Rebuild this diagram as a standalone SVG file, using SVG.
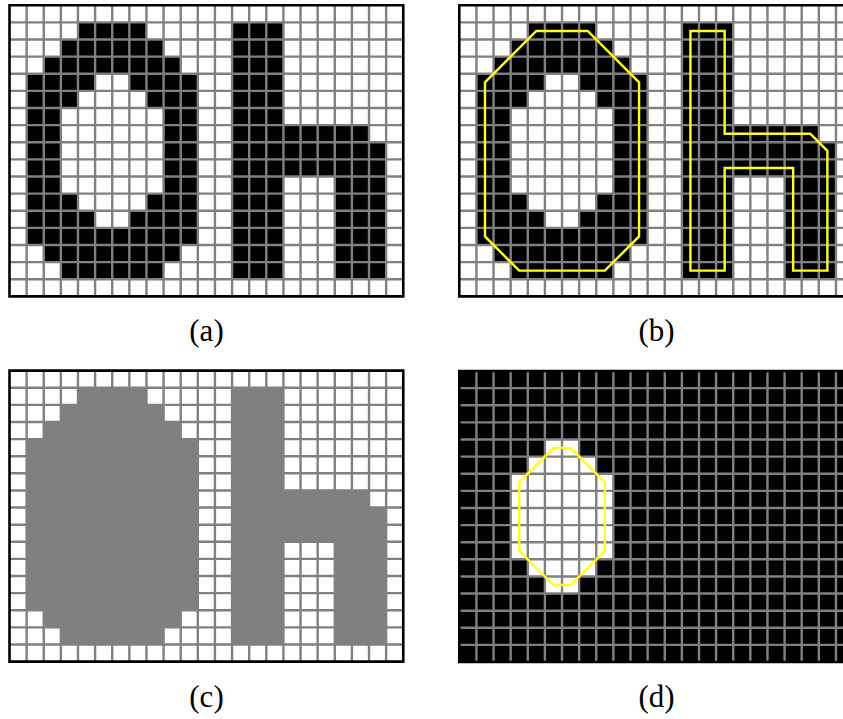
<svg xmlns="http://www.w3.org/2000/svg" width="843" height="719" viewBox="0 0 843 719">
<style>
.grid{fill:none;stroke:#808080;stroke-width:2.4}
.frame{fill:none;stroke:#000;stroke-width:2.6}
.outline{fill:none;stroke:#ffff22;stroke-width:2.4;stroke-linejoin:miter}
.black{fill:#000}
.white{fill:#fff}
.grey{fill:#808080}
.lbl{font-family:"Liberation Serif","Times New Roman",serif;font-size:31px;text-anchor:middle;fill:#000}
</style>
<defs>
<path id="gridlines" class="grid" vector-effect="non-scaling-stroke" d="M1 0V17M2 0V17M3 0V17M4 0V17M5 0V17M6 0V17M7 0V17M8 0V17M9 0V17M10 0V17M11 0V17M12 0V17M13 0V17M14 0V17M15 0V17M16 0V17M17 0V17M18 0V17M19 0V17M20 0V17M21 0V17M22 0V17M0 1H23M0 2H23M0 3H23M0 4H23M0 5H23M0 6H23M0 7H23M0 8H23M0 9H23M0 10H23M0 11H23M0 12H23M0 13H23M0 14H23M0 15H23M0 16H23"/>
<rect id="border" class="frame" vector-effect="non-scaling-stroke" x="0" y="0" width="23" height="17"/>
<g id="letterO">
<rect x="4" y="1" width="4" height="1"/>
<rect x="3" y="2" width="6" height="1"/>
<rect x="2" y="3" width="8" height="1"/>
<rect x="1" y="4" width="4" height="1"/><rect x="7" y="4" width="4" height="1"/>
<rect x="1" y="5" width="3" height="1"/><rect x="8" y="5" width="3" height="1"/>
<rect x="1" y="6" width="2" height="5"/><rect x="9" y="6" width="2" height="5"/>
<rect x="1" y="11" width="3" height="1"/><rect x="8" y="11" width="3" height="1"/>
<rect x="1" y="12" width="4" height="1"/><rect x="7" y="12" width="4" height="1"/>
<rect x="1" y="13" width="10" height="1"/>
<rect x="2" y="14" width="8" height="1"/>
<rect x="3" y="15" width="6" height="1"/>
</g>
<g id="letterH">
<rect x="13" y="1" width="3" height="15"/>
<rect x="16" y="7" width="5" height="1"/>
<rect x="16" y="8" width="6" height="2"/>
<rect x="19" y="10" width="3" height="6"/>
</g>
</defs>

<g id="panel-a" transform="translate(9.5,5.3) scale(17.12)">
<rect class="white" x="0" y="0" width="23" height="17"/>
<use href="#letterO" class="black"/>
<use href="#letterH" class="black"/>
<use href="#gridlines"/>
<use href="#border"/>
</g>

<g id="panel-b" transform="translate(459.3,5.3) scale(17.12)">
<rect class="white" x="0" y="0" width="23" height="17"/>
<use href="#letterO" class="black"/>
<use href="#letterH" class="black"/>
<use href="#gridlines"/>
<use href="#border"/>
<polygon class="outline" vector-effect="non-scaling-stroke" points="4.5,1.5 7.5,1.5 10.5,4.5 10.5,13.5 8.5,15.5 3.5,15.5 1.5,13.5 1.5,4.5"/>
<polygon class="outline" vector-effect="non-scaling-stroke" points="13.5,1.5 15.5,1.5 15.5,7.5 20.5,7.5 21.5,8.5 21.5,15.5 19.5,15.5 19.5,9.5 15.5,9.5 15.5,15.5 13.5,15.5"/>
</g>

<g id="panel-c" transform="translate(9.5,370.6) scale(17.12)">
<rect class="white" x="0" y="0" width="23" height="17"/>
<path class="grey" d="M4 1H8V2H9V3H10V4H11V14H10V15H9V16H3V15H2V14H1V4H2V3H3V2H4Z"/>
<use href="#letterH" class="grey"/>
<use href="#gridlines"/>
<use href="#border"/>
</g>

<g id="panel-d" transform="translate(459.3,371) scale(17.12)">
<rect class="black" x="0" y="0" width="23" height="17"/>
<path class="white" d="M5 4H7V5H8V6H9V11H8V12H7V13H5V12H4V11H3V6H4V5H5Z"/>
<use href="#gridlines"/>
<use href="#border"/>
<polygon class="outline" vector-effect="non-scaling-stroke" points="5.5,4.5 6.5,4.5 8.5,6.5 8.5,10.5 6.5,12.5 5.5,12.5 3.5,10.5 3.5,6.5"/>
</g>

<g id="labels">
<text class="lbl" x="206.5" y="341">(a)</text>
<text class="lbl" x="656.5" y="341">(b)</text>
<text class="lbl" x="206.5" y="707">(c)</text>
<text class="lbl" x="656.5" y="707">(d)</text>
</g>
</svg>
